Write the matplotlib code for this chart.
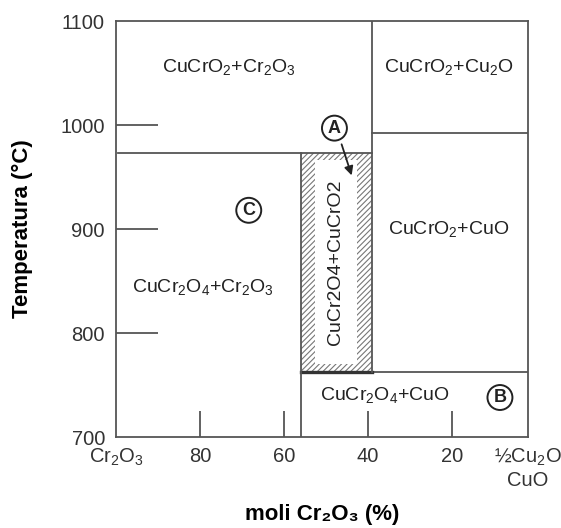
import numpy as np
import matplotlib
matplotlib.use("Agg")
import matplotlib.pyplot as plt
from matplotlib.patches import Rectangle

plt.rcParams['font.family'] = ['Liberation Sans', 'DejaVu Sans']
plt.rcParams['mathtext.fontset'] = 'custom'
plt.rcParams['mathtext.rm'] = 'Liberation Sans'
plt.rcParams['mathtext.it'] = 'Liberation Sans'
plt.rcParams['mathtext.default'] = 'rm'
plt.rcParams['hatch.linewidth'] = 0.8

# axis data
x_ticks = [100, 80, 60, 40, 20, 2]
x_ticklabels = ['Cr$_2$O$_3$', '80', '60', '40', '20', '½Cu$_2$O\nCuO']
y_ticks = [700, 800, 900, 1000, 1100]

# phase boundaries (moli Cr2O3 %, temperatura °C)
t_low = 763       # CuCr2O4 + CuO upper limit
t_mid = 973       # CuCr2O4 decomposition (left side)
t_high = 992      # Cu2O / CuO on right side
x_spinel = 56     # left edge of CuCr2O4 + CuCrO2 box
x_delaf = 39      # right edge of box

# phase labels: (x, T, text)
phase_labels = [
    (73.1, 1056, 'CuCrO$_2$+Cr$_2$O$_3$'),
    (20.7, 1056, 'CuCrO$_2$+Cu$_2$O'),
    (20.7, 900, 'CuCrO$_2$+CuO'),
    (79.3, 844, 'CuCr$_2$O$_4$+Cr$_2$O$_3$'),
    (36.1, 740, 'CuCr$_2$O$_4$+CuO'),
]
circle_labels = [(48.0, 997, 'A'), (8.6, 738, 'B'), (68.4, 918, 'C')]

fig = plt.figure(figsize=(5.61, 5.28), dpi=100)
ax = fig.add_axes([0.2068, 0.1723, 0.7338, 0.7879])
ax.set_xlim(99.5, 2)
ax.set_ylim(700, 1100)

lc = '#555555'
lw = 1.3

# hatched region
ax.add_patch(Rectangle((x_delaf, t_low), x_spinel - x_delaf, t_mid - t_low,
                       facecolor='white', edgecolor='#777777', hatch='//////',
                       linewidth=0, zorder=1))
ax.add_patch(Rectangle((x_delaf + 3.6, t_low + 7), x_spinel - x_delaf - 6.9, t_mid - t_low - 14,
                       facecolor='white', edgecolor='none', zorder=2))

# boundary lines
ax.plot([99.5, x_delaf], [t_mid, t_mid], color=lc, lw=lw, zorder=3)
ax.plot([x_delaf, 2], [t_high, t_high], color=lc, lw=lw, zorder=3)
ax.plot([x_spinel, 2], [t_low, t_low], color=lc, lw=lw, zorder=3)
ax.plot([x_spinel, x_delaf], [t_low, t_low], color='#333333', lw=2.4, zorder=3)
ax.plot([x_delaf, x_delaf], [t_low, 1100], color=lc, lw=lw, zorder=3)
ax.plot([x_spinel, x_spinel], [700, t_mid], color=lc, lw=lw, zorder=3)

for x, t, s in phase_labels:
    ax.text(x, t, s, ha='center', va='center', fontsize=14, color='#222222', zorder=4)

ax.text(47.8, 868, 'CuCr2O4+CuCrO2', rotation=90, ha='center', va='center',
        fontsize=14, color='#222222', zorder=4)

for x, t, s in circle_labels:
    ax.text(x, t, s, ha='center', va='center', fontsize=13, fontweight='bold',
            color='#222222', zorder=5,
            bbox=dict(boxstyle='circle,pad=0.22', facecolor='white', edgecolor='#222222', lw=1.4))

ax.annotate('', xy=(43.7, 949), xytext=(46.5, 984),
            arrowprops=dict(arrowstyle='-|>', color='#222222', lw=1.3, mutation_scale=13), zorder=5)

for sp in ax.spines.values():
    sp.set_color(lc)
    sp.set_linewidth(lw)

ax.set_yticks(y_ticks)
ax.set_yticklabels([str(v) for v in y_ticks])
ax.set_xticks(x_ticks)
ax.set_xticklabels(x_ticklabels)
ax.tick_params(axis='y', direction='in', length=30, width=lw, color=lc, labelsize=14.5,
               labelcolor='#333333', pad=8)
ax.tick_params(axis='x', direction='in', length=19, width=lw, color=lc, labelsize=14.5,
               labelcolor='#333333', pad=7)
# no tick marks at the frame ends
for i, t in enumerate(ax.yaxis.get_major_ticks()):
    if y_ticks[i] in (700, 1100):
        t.tick1line.set_visible(False)
for i, t in enumerate(ax.xaxis.get_major_ticks()):
    if i in (0, len(x_ticks) - 1):
        t.tick1line.set_visible(False)

ax.set_ylabel('Temperatura (°C)', fontsize=16, fontweight='bold', labelpad=20)
ax.set_xlabel('moli Cr₂O₃ (%)', fontsize=16, fontweight='bold', labelpad=10)

fig.savefig('out.png', dpi=100)
